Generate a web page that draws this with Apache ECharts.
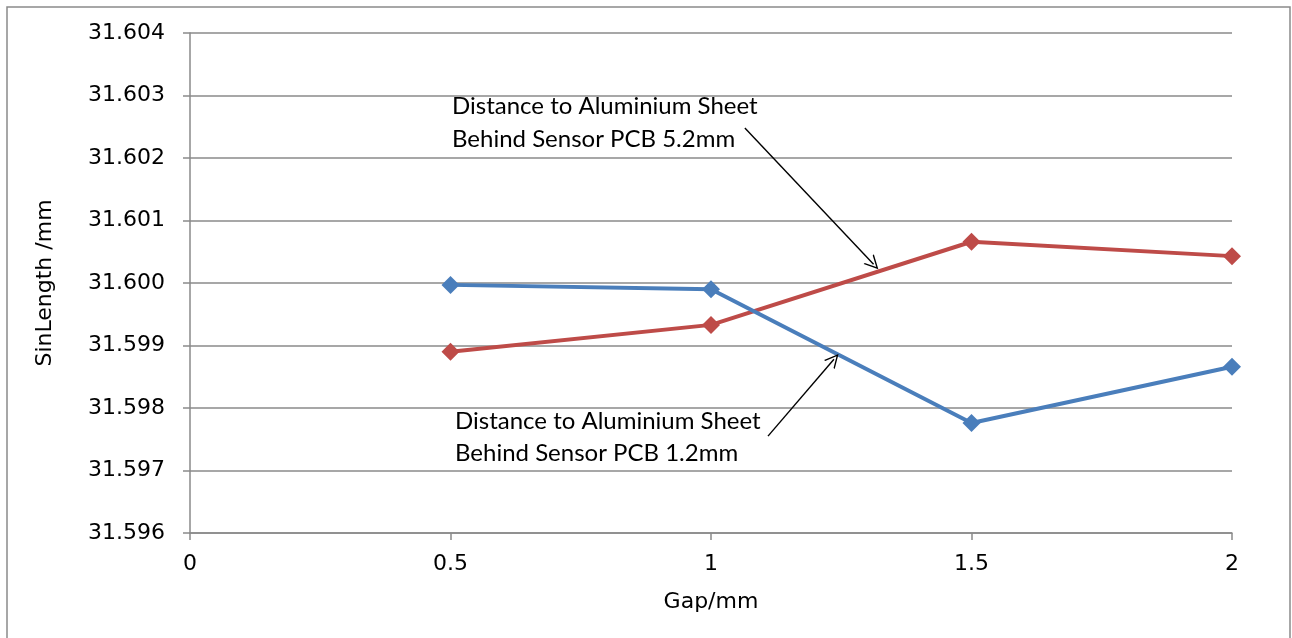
<!DOCTYPE html>
<html>
<head>
<meta charset="utf-8">
<script src="https://cdn.jsdelivr.net/npm/echarts@6/dist/echarts.min.js"></script>
<style>html,body{margin:0;padding:0;background:#fff}#c{width:1292px;height:638px}</style>
</head>
<body>
<div id="c"></div>
<script>
const gap = [0.5, 1, 1.5, 2];
const sheet12 = [31.59997, 31.59990, 31.59776, 31.59866];
const sheet52 = [31.59890, 31.59933, 31.60066, 31.60043];
const xTicks = [0, 0.5, 1, 1.5, 2];
const yTicks = [31.596, 31.597, 31.598, 31.599, 31.600, 31.601, 31.602, 31.603, 31.604];
const note52 = ['Distance to Aluminium Sheet', 'Behind Sensor PCB 5.2mm'];
const note12 = ['Distance to Aluminium Sheet', 'Behind Sensor PCB 1.2mm'];
const arrow52 = [[1.065, 31.60248], [1.312, 31.60030]];
const arrow12 = [[1.1094, 31.59755], [1.236, 31.59878]];

const axisFont = 'DejaVu Sans';
const noteFont = 'Lato';
const gridColor = '#8a8a8a';
const chevron = 'path://M0,10 L5,0 L10,10 L8.9,10 L5,2.2 L1.1,10 Z';

const chart = echarts.init(document.getElementById('c'), null, {renderer: 'canvas'});
chart.setOption({
  animation: false,
  backgroundColor: '#fff',
  grid: {left: 190, right: 60, top: 33, bottom: 105, containLabel: false},
  xAxis: {
    type: 'value', min: xTicks[0], max: xTicks[xTicks.length - 1], interval: 0.5,
    name: 'Gap/mm', nameLocation: 'middle', nameGap: 58,
    nameTextStyle: {fontFamily: axisFont, fontSize: 22, color: '#000'},
    axisLine: {show: true, lineStyle: {color: gridColor, width: 1.5}},
    axisTick: {show: true, length: 7, lineStyle: {color: gridColor, width: 1.5}},
    axisLabel: {fontFamily: axisFont, fontSize: 22, color: '#000', margin: 20,
      formatter: v => String(+v.toFixed(1))},
    splitLine: {show: false}
  },
  yAxis: {
    type: 'value', min: yTicks[0], max: yTicks[yTicks.length - 1], interval: 0.001,
    name: 'SinLength /mm', nameLocation: 'middle', nameGap: 134,
    nameTextStyle: {fontFamily: axisFont, fontSize: 22, color: '#000'},
    axisLine: {show: true, lineStyle: {color: gridColor, width: 1.5}},
    axisTick: {show: true, length: 7, lineStyle: {color: gridColor, width: 1.5}},
    axisLabel: {fontFamily: axisFont, fontSize: 22, color: '#000', margin: 25,
      formatter: v => v.toFixed(3)},
    splitLine: {show: true, lineStyle: {color: gridColor, width: 1.5}}
  },
  series: [
    {
      name: '1.2mm', type: 'line', data: gap.map((g, i) => [g, sheet12[i]]),
      symbol: 'diamond', symbolSize: 18, color: '#4A7EBB',
      lineStyle: {width: 4, color: '#4A7EBB'}, itemStyle: {color: '#4A7EBB'}, z: 3
    },
    {
      name: '5.2mm', type: 'line', data: gap.map((g, i) => [g, sheet52[i]]),
      symbol: 'diamond', symbolSize: 18, color: '#BE4B48',
      lineStyle: {width: 4, color: '#BE4B48'}, itemStyle: {color: '#BE4B48'}, z: 2,
      markLine: {
        silent: true, animation: false,
        symbol: ['none', chevron], symbolSize: [14, 14],
        lineStyle: {color: '#000', width: 1.4, type: 'solid'},
        label: {show: false},
        emphasis: {disabled: true},
        data: [
          [{coord: arrow52[0]}, {coord: arrow52[1]}],
          [{coord: arrow12[0]}, {coord: arrow12[1]}]
        ]
      }
    }
  ],
  graphic: [
    {type: 'rect', shape: {x: 7, y: 7, width: 1283, height: 650}, style: {fill: 'none', stroke: '#8a8a8a', lineWidth: 1.5}, silent: true, z: -1},
    {type: 'text', left: 452, top: 90, style: {text: note52.join('\n'), font: '24px ' + noteFont, fill: '#000', lineHeight: 33}},
    {type: 'text', left: 455, top: 405, style: {text: note12.join('\n'), font: '24px ' + noteFont, fill: '#000', lineHeight: 32}}
  ]
});
</script>
</body>
</html>
